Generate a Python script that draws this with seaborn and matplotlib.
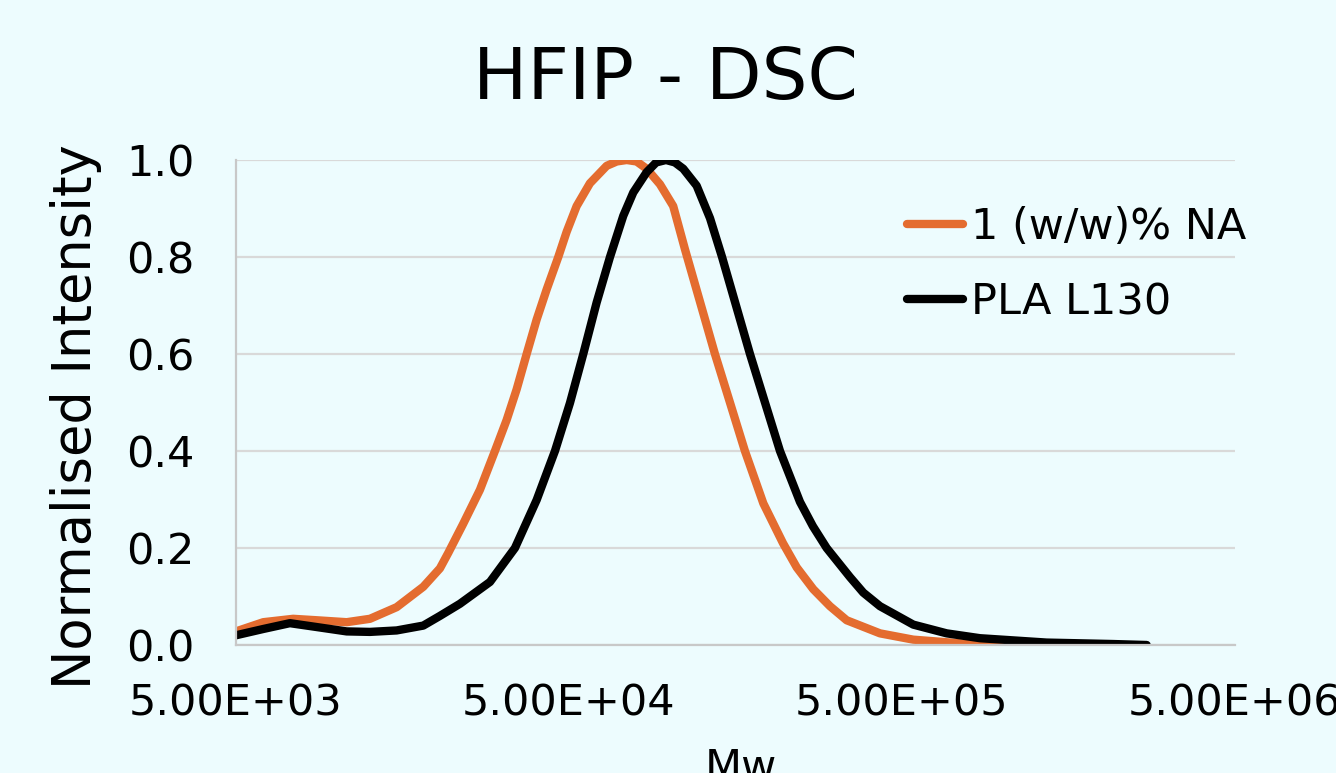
import pandas as pd
import matplotlib.pyplot as plt
import seaborn as sns

# Valeurs (Mw, intensité normalisée)
mw_na = [5000, 6040, 7430, 8740, 10750, 12630, 15190, 18260, 20490, 21710,
         24070, 27020, 29970, 32500, 34820, 37320, 39990, 42850, 46440, 49210,
         52730, 57800, 64900, 69600, 74540, 79800, 85580, 93800, 102800, 111500,
         137200, 152200, 168800, 191700, 219600, 241500, 270800, 303900,
         341100, 429500, 540700, 764000, 1077000, 1391000]
int_na = [0.028, 0.047, 0.054, 0.051, 0.047, 0.054, 0.078, 0.12, 0.158, 0.19,
          0.25, 0.32, 0.40, 0.464, 0.527, 0.60, 0.671, 0.733, 0.80, 0.852,
          0.905, 0.952, 0.988, 0.997, 1.0, 0.997, 0.982, 0.95, 0.905, 0.816,
          0.60, 0.50, 0.40, 0.292, 0.21, 0.16, 0.115, 0.08,
          0.051, 0.024, 0.011, 0.003, 0.001, 0.0]

mw_pla = [5000, 6040, 7260, 8740, 10750, 12630, 15190, 18260, 20490, 23530,
          28960, 34420, 39990, 45390, 50350, 55200, 60540, 66400, 72800, 78000,
          85580, 91400, 97800, 104000, 110200, 120900, 132600, 144100, 174800,
          215100, 247000, 270000, 297000, 349000, 382600, 429500, 540700, 681100,
          857400, 1359000, 2151000, 2715000]
int_pla = [0.02, 0.033, 0.045, 0.037, 0.028, 0.027, 0.030, 0.040, 0.06, 0.085,
           0.13, 0.20, 0.299, 0.40, 0.499, 0.60, 0.706, 0.80, 0.885, 0.933,
           0.975, 0.995, 1.0, 0.995, 0.982, 0.947, 0.88, 0.80, 0.60,
           0.40, 0.295, 0.245, 0.20, 0.14, 0.108, 0.08, 0.042, 0.024,
           0.014, 0.005, 0.002, 0.0]

series = ["1 (w/w)% NA", "PLA L130"]
couleurs = {"1 (w/w)% NA": "#E46C2F", "PLA L130": "#000000"}

x_ticks = [5e3, 5e4, 5e5, 5e6]
x_labels = ["5.00E+03", "5.00E+04", "5.00E+05", "5.00E+06"]
y_ticks = [0.0, 0.2, 0.4, 0.6, 0.8, 1.0]

df = pd.concat([
    pd.DataFrame({"Mw": mw_na, "intensite": int_na, "echantillon": series[0]}),
    pd.DataFrame({"Mw": mw_pla, "intensite": int_pla, "echantillon": series[1]}),
])

fond = "#EDFCFE"
sns.set_theme(style="whitegrid")
plt.rcParams["font.family"] = ["DejaVu Sans"]
plt.rcParams["text.color"] = "black"
plt.rcParams["axes.labelcolor"] = "black"

fig = plt.figure(figsize=(13.36, 7.73), dpi=100, facecolor=fond)
ax = fig.add_axes([0.1766, 0.1656, 0.7478, 0.6274])
ax.set_facecolor(fond)

sns.lineplot(data=df, x="Mw", y="intensite", hue="echantillon", hue_order=series,
             palette=couleurs, linewidth=6.0, sort=False, estimator=None, ax=ax)
for ligne in ax.get_lines():
    ligne.set_solid_joinstyle("round")
    ligne.set_solid_capstyle("round")

ax.set_xscale("log")
ax.set_xlim(5e3, 5e6)
ax.set_ylim(0, 1.0)
ax.set_xticks(x_ticks)
ax.set_xticklabels(x_labels)
ax.minorticks_off()
ax.set_yticks(y_ticks)
ax.set_yticklabels([f"{v:.1f}" for v in y_ticks])
ax.tick_params(axis="both", labelsize=31, length=0, colors="black")
ax.tick_params(axis="y", pad=30)
ax.tick_params(axis="x", pad=27)

ax.grid(axis="x", visible=False)
ax.grid(axis="y", color="#D9D9D9", linewidth=1.6)
for cote in ["top", "right"]:
    ax.spines[cote].set_visible(False)
for cote in ["left", "bottom"]:
    ax.spines[cote].set_color("#C8C8C8")
    ax.spines[cote].set_linewidth(1.6)

ax.set_xlabel("Mw", fontsize=31)
ax.xaxis.set_label_coords(0.505, -0.21)
ax.set_ylabel("Normalised Intensity", fontsize=38)
ax.yaxis.set_label_coords(-0.134, 0.47)

fig.text(0.498, 0.872, "HFIP - DSC", fontsize=52, ha="center", va="baseline")

leg = ax.legend(loc="upper left", bbox_to_anchor=(0.672, 0.906), frameon=False,
                fontsize=31, handlelength=1.3, handletextpad=0.17,
                labelspacing=0.78, borderpad=0, borderaxespad=0)
for h in leg.legend_handles:
    h.set_linewidth(6.0)
    h.set_solid_capstyle("round")

plt.savefig("out.png", dpi=100, facecolor=fond)
plt.close()
